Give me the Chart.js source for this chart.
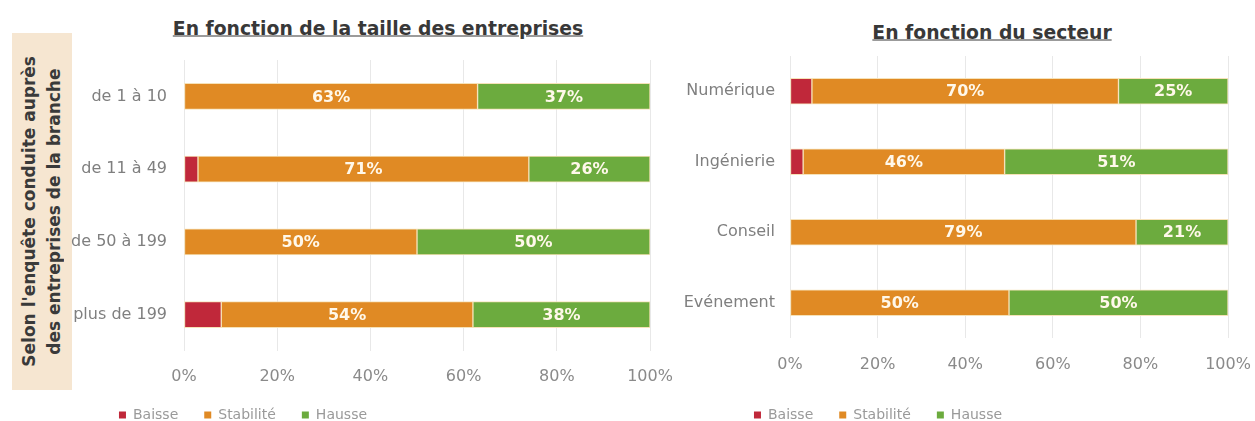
<!DOCTYPE html>
<html lang="fr">
<head>
<meta charset="utf-8">
<script src="https://cdn.jsdelivr.net/npm/chart.js@4.4.1/dist/chart.umd.min.js"></script>
<style>
  body { margin: 0; width: 1255px; height: 421px; overflow: hidden; background: #fff; position: relative; font-family: "DejaVu Sans", sans-serif; }
  .side { position: absolute; left: 12px; top: 33px; width: 60px; height: 357px; background: #f6e6d1; display: flex; align-items: center; justify-content: center; }
  .side span { writing-mode: vertical-rl; transform: rotate(180deg); font-weight: bold; font-size: 17px; line-height: 25px; color: #3a3a3a; text-align: center; white-space: nowrap; }
  .title { position: absolute; font-weight: bold; font-size: 18.8px; color: #383838; text-decoration: underline; transform: translate(-50%, -50%); white-space: nowrap; }
  .wrap { position: absolute; top: 0; }
  canvas { display: block; }
</style>
</head>
<body>
<div class="side"><span>Selon l'enquête conduite auprès<br>des entreprises de la branche</span></div>
<div class="title" style="left:378px; top:28px;">En fonction de la taille des entreprises</div>
<div class="title" style="left:992px; top:32px;">En fonction du secteur</div>
<div class="wrap" style="left:0px;"><canvas id="sizeChart" width="700" height="470"></canvas></div>
<div class="wrap" style="left:670px;"><canvas id="sectorChart" width="585" height="470"></canvas></div>
<script>
// taille des entreprises
const sizeLabels = ['de 1 à 10', 'de 11 à 49', 'de 50 à 199', 'plus de 199'];
const sizeBaisse = [0, 3, 0, 8];
const sizeStabilite = [63, 71, 50, 54];
const sizeHausse = [37, 26, 50, 38];

// secteur
const sectorLabels = ['Numérique', 'Ingénierie', 'Conseil', 'Evénement'];
const sectorBaisse = [5, 3, 0, 0];
const sectorStabilite = [70, 46, 79, 50];
const sectorHausse = [25, 51, 21, 50];

const seriesNames = ['Baisse', 'Stabilité', 'Hausse'];
const seriesColors = ['#c0283a', '#e08a24', '#6cab3e'];

Chart.defaults.font.family = '"DejaVu Sans", sans-serif';

// writes the % inside the orange and green segments
const valueLabels = {
  id: 'valueLabels',
  afterDatasetsDraw(chart) {
    const ctx = chart.ctx;
    ctx.save();
    ctx.font = 'bold 16px "DejaVu Sans"';
    ctx.fillStyle = '#fff8ea';
    ctx.textAlign = 'center';
    ctx.textBaseline = 'middle';
    chart.data.datasets.forEach((ds, i) => {
      if (!ds.showValue) return;
      chart.getDatasetMeta(i).data.forEach((bar, j) => {
        const v = ds.data[j];
        if (!v) return;
        const { x, base, y } = bar.getProps(['x', 'base', 'y'], true);
        ctx.fillText(v + '%', (x + base) / 2, y + 1);
      });
    });
    ctx.restore();
  }
};

// moves the legend row to a fixed centre under the axis
const legendPlace = {
  id: 'legendPlace',
  afterLayout(chart, args, opts) {
    const lg = chart.legend;
    if (!lg) return;
    const pad = lg.options.labels.padding;
    const h = pad * 2 + 14;
    const dx = opts.cx - (lg.left + lg.right) / 2;
    lg.left += dx; lg.right += dx;
    lg.top = opts.cy - h / 2; lg.bottom = lg.top + h; lg.height = h;
  }
};

function makeChart(id, labels, baisse, stabilite, hausse, cfg) {
  const values = [baisse, stabilite, hausse];
  new Chart(document.getElementById(id), {
    type: 'bar',
    data: {
      labels: labels,
      datasets: seriesNames.map((name, i) => ({
        label: name,
        data: values[i],
        backgroundColor: seriesColors[i],
        borderColor: '#f6e2b8',
        borderWidth: 1,
        borderSkipped: false,
        barThickness: 26,
        showValue: i > 0
      }))
    },
    options: {
      indexAxis: 'y',
      responsive: false,
      animation: false,
      layout: { padding: { top: cfg.top, right: cfg.right, bottom: 0, left: 0 } },
      scales: {
        x: {
          stacked: true,
          min: 0,
          max: 100,
          // leave exactly the room that puts the plot bottom at cfg.areaBottom,
          // and let the 100% label hang over the right edge
          afterFit: (scale) => {
            const lg = scale.chart.legend;
            scale.height = scale.chart.height - (lg ? lg.height : 0) - cfg.areaBottom;
            scale.paddingLeft = 0;
            scale.paddingRight = 0;
          },
          grid: { color: '#e8e8e8', drawTicks: false },
          border: { display: false },
          ticks: {
            stepSize: 20,
            padding: cfg.tickPad,
            color: '#8a8a8a',
            font: { size: 16 },
            callback: (v) => v + '%'
          }
        },
        y: {
          stacked: true,
          afterFit: (scale) => { scale.width = cfg.yW; },
          grid: { display: false, drawTicks: false },
          border: { display: false },
          ticks: { padding: cfg.yPad, color: '#7f7f7f', font: { size: 16 } }
        }
      },
      plugins: {
        legend: {
          position: 'bottom',
          labels: {
            boxWidth: 7,
            boxHeight: 7,
            padding: 26,
            color: '#9a9a9a',
            font: { size: 14 },
            generateLabels: (chart) => Chart.defaults.plugins.legend.labels.generateLabels(chart)
              .map((l) => ({ ...l, lineWidth: 0 }))
          }
        },
        legendPlace: { cx: cfg.legendX, cy: 415 },
        tooltip: { enabled: false }
      }
    },
    plugins: [valueLabels, legendPlace]
  });
}

makeChart('sizeChart', sizeLabels, sizeBaisse, sizeStabilite, sizeHausse,
  { top: 60, right: 50, areaBottom: 351, tickPad: 16, yW: 184, yPad: 17, legendX: 243 });
makeChart('sectorChart', sectorLabels, sectorBaisse, sectorStabilite, sectorHausse,
  { top: 56, right: 27, areaBottom: 338, tickPad: 17, yW: 120, yPad: 15, legendX: 208 });
</script>
</body>
</html>
